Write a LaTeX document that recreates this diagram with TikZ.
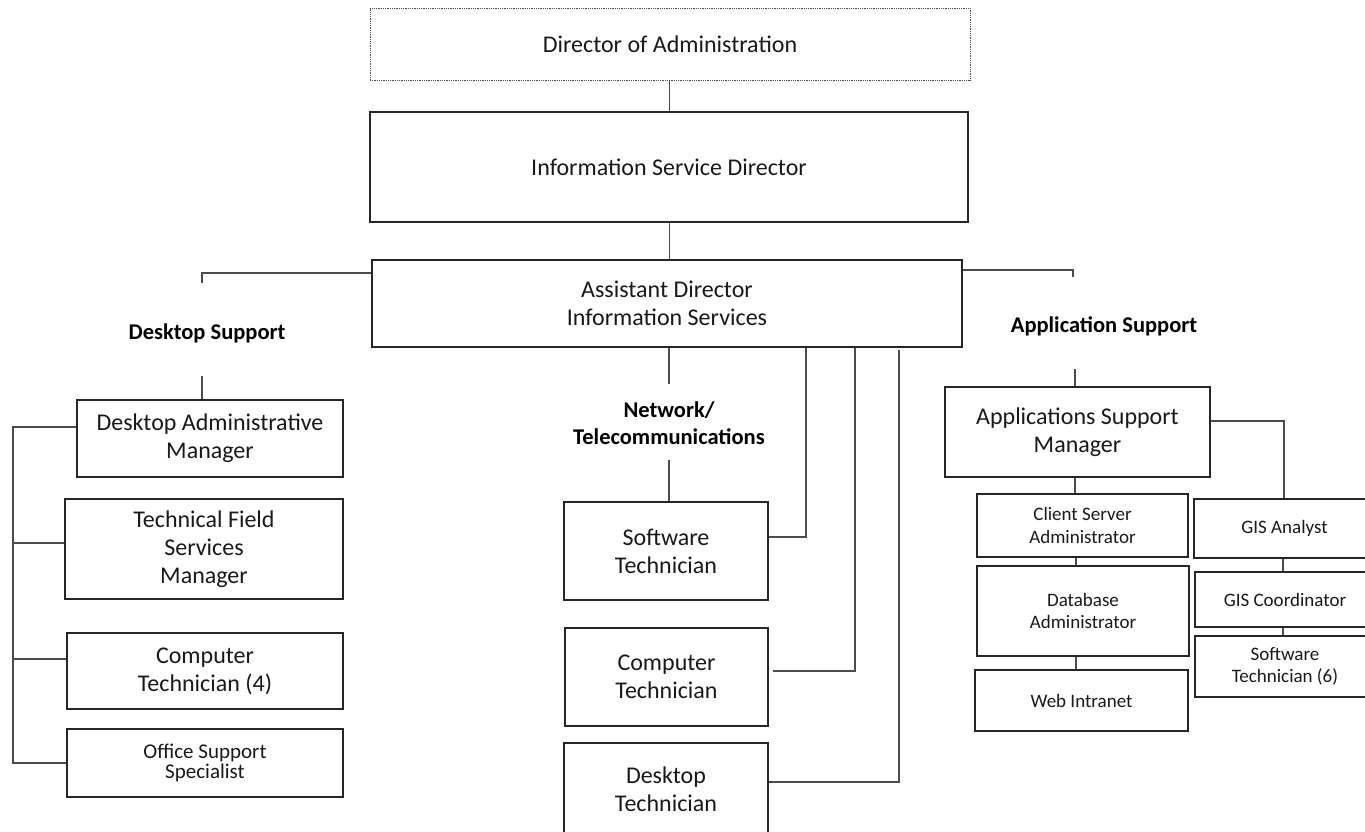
\documentclass[tikz,border=0pt]{standalone}
\usepackage{fontspec}
\setmainfont{Carlito}
\begin{document}
\begin{tikzpicture}[x=1pt,y=-1pt,
  box/.style={draw=black!85, line width=1.2pt, align=center, inner sep=0pt, text=black!90,
    font=\fontsize{24}{28}\selectfont},
  smallbox/.style={box, font=\fontsize{19}{22.5}\selectfont},
  ln/.style={draw=black!70, line width=1.3pt},
  hd/.style={font=\bfseries\fontsize{22.5}{27}\selectfont, align=center, inner sep=0pt, text=black}]
\useasboundingbox (0,0) rectangle (1365,831);
\clip (0,0) rectangle (1365,831);

% top
\node[box, draw=black!70, line width=0.8pt, densely dotted, minimum width=600, minimum height=72] (dir) at (670,44) {Director of Administration};
\node[box, minimum width=598, minimum height=110] (isd) at (669,167) {Information Service Director};
\node[box, minimum width=590, minimum height=87] (asd) at (667,303.5) {Assistant Director\\Information Services};

% desktop support
\node[hd] (ds) at (207,333) {Desktop Support};
\node[box, minimum width=266, minimum height=77] (dam) at (210,438.5) {Desktop Administrative\\Manager};
\node[box, minimum width=278, minimum height=100] (tfs) at (204,549) {Technical Field\\Services\\Manager};
\node[box, minimum width=276, minimum height=76] (ct4) at (205,671) {Computer\\Technician (4)};
\node[box, font=\fontsize{21}{20}\selectfont, minimum width=276, minimum height=68] (oss) at (205,763) {Office Support\\Specialist};

% network
\node[hd] (net) at (669,423) {Network/\\Telecommunications};
\node[box, minimum width=204, minimum height=98] (swt) at (666,551) {Software\\Technician};
\node[box, minimum width=203, minimum height=98] (cpt) at (666.5,677) {Computer\\Technician};
\node[box, minimum width=204, minimum height=92] (dst) at (666,789) {Desktop\\Technician};

% application support
\node[hd] (aps) at (1104,326) {Application Support};
\node[box, minimum width=265, minimum height=90] (asm) at (1077.5,432) {Applications Support\\Manager};
\node[smallbox, minimum width=211, minimum height=63] (csa) at (1082.5,525.5) {Client Server\\Administrator};
\node[smallbox, minimum width=212, minimum height=90] (dba) at (1083,611) {Database\\Administrator};
\node[smallbox, minimum width=213, minimum height=61] (web) at (1081.5,700.5) {Web Intranet};
\node[smallbox, minimum width=181, minimum height=59] (gisa) at (1284.5,528.5) {GIS Analyst};
\node[smallbox, minimum width=180, minimum height=55] (gisc) at (1285,599.5) {GIS Coordinator};
\node[smallbox, minimum width=180, minimum height=61] (st6) at (1285,666.5) {Software\\Technician (6)};

% free ends
\coordinate (dsT) at (202,283);
\coordinate (dsB) at (202,376);
\coordinate (bus) at (13,427);
\coordinate (netT) at (669,384);
\coordinate (netB) at (669,460);
\coordinate (apT) at (1073,277);
\coordinate (apB) at (1075,369);

% connectors
\draw[ln] (dir.south -| 669.5,0) -- (isd.north -| 669.5,0);
\draw[ln] (isd.south -| 669.5,0) -- (asd.north -| 669.5,0);
\draw[ln] (asd.west |- 0,273) -| (dsT);
\draw[ln] (dsB) -- (dam.north -| dsB);
\draw[ln] (dam.west |- bus) -- (bus) -- (bus |- 0,763) -- (oss.west |- 0,763);
\draw[ln] (bus |- 0,543) -- (tfs.west |- 0,543);
\draw[ln] (bus |- 0,659) -- (ct4.west |- 0,659);

\draw[ln] (asd.south -| netT) -- (netT);
\draw[ln] (netB) -- (swt.north -| netB);
\draw[ln] (asd.south -| 806,0) -- (806,537) -- (swt.east |- 0,537);
\draw[ln] (asd.south -| 855,0) -- (855,671) -- (773,671);
\draw[ln] (899,350) -- (899,782) -- (dst.east |- 0,782);

\draw[ln] (asd.east |- 0,270) -| (apT);
\draw[ln] (apB) -- (asm.north -| apB);
\draw[ln] (asm.east |- 0,421) -| (gisa.north -| 1284,0);
\draw[ln] (asm.south -| 1075,0) -- (csa.north -| 1075,0);
\draw[ln] (csa.south -| 1076,0) -- (dba.north -| 1076,0);
\draw[ln] (dba.south -| 1076,0) -- (web.north -| 1076,0);
\draw[ln] (gisa.south -| 1283,0) -- (gisc.north -| 1283,0);
\draw[ln] (gisc.south -| 1283,0) -- (st6.north -| 1283,0);
\end{tikzpicture}
\end{document}
